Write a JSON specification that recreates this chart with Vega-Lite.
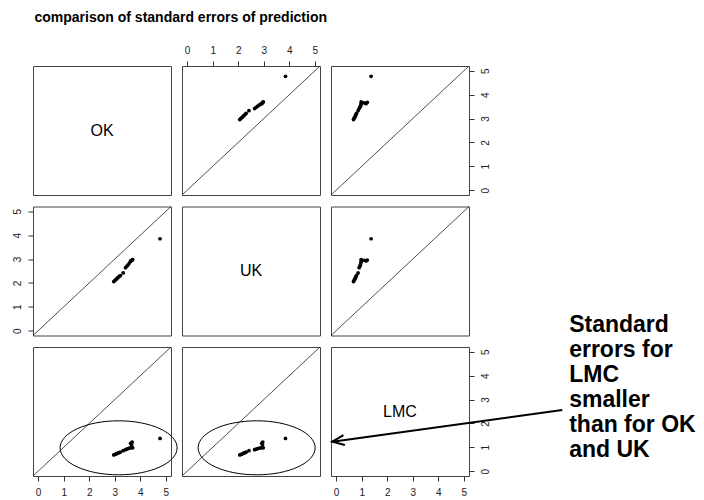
{
  "$schema": "https://vega.github.io/schema/vega-lite/v6.json",
  "padding": {"left": 11, "top": 10, "right": 0, "bottom": 0},
  "title": {"text": "comparison of standard errors of prediction", "anchor": "start", "fontSize": 14, "font": "Liberation Sans", "fontWeight": "bold", "dx": 23, "offset": 20, "color": "#000"},
  "data": {"values": [
    {"OK": 2.96, "UK": 2.06, "LMC": 0.68},
    {"OK": 3.00, "UK": 2.10, "LMC": 0.70},
    {"OK": 3.04, "UK": 2.14, "LMC": 0.72},
    {"OK": 3.08, "UK": 2.18, "LMC": 0.74},
    {"OK": 3.12, "UK": 2.22, "LMC": 0.76},
    {"OK": 3.17, "UK": 2.27, "LMC": 0.78},
    {"OK": 3.22, "UK": 2.31, "LMC": 0.80},
    {"OK": 3.33, "UK": 2.42, "LMC": 0.86},
    {"OK": 3.42, "UK": 2.64, "LMC": 0.90},
    {"OK": 3.47, "UK": 2.70, "LMC": 0.93},
    {"OK": 3.52, "UK": 2.76, "LMC": 0.95},
    {"OK": 3.57, "UK": 2.83, "LMC": 0.97},
    {"OK": 3.62, "UK": 2.90, "LMC": 0.98},
    {"OK": 3.70, "UK": 2.98, "LMC": 0.98},
    {"OK": 3.66, "UK": 2.95, "LMC": 1.10},
    {"OK": 3.62, "UK": 2.92, "LMC": 1.17},
    {"OK": 3.68, "UK": 2.96, "LMC": 1.22},
    {"OK": 4.77, "UK": 3.85, "LMC": 1.37}
  ]},
  "columns": 3,
  "bounds": "flush",
  "spacing": {"row": 11.5, "column": 11},
  "resolve": {"scale": {"x": "independent", "y": "independent"}},
  "concat": [
    {
      "width": 138, "height": 129,
      "data": {"values": [{}]},
      "mark": {"type": "text", "text": "OK", "fontSize": 16, "font": "Liberation Sans", "color": "#000"},
      "encoding": {
        "x": {"datum": 2.5, "type": "quantitative", "scale": {"domain": [-0.2, 5.2], "nice": false, "zero": false}, "axis": null},
        "y": {"datum": 2.5, "type": "quantitative", "scale": {"domain": [-0.2, 5.2], "nice": false, "zero": false}, "axis": null}
      }
    },
    {
      "width": 138, "height": 129,
      "layer": [
        {
          "mark": {"type": "point", "filled": true, "shape": "circle", "size": 14, "color": "#000", "opacity": 1},
          "encoding": {
            "x": {"field": "UK", "type": "quantitative", "scale": {"domain": [-0.2, 5.2], "nice": false, "zero": false}, "axis": {"orient": "top", "values": [0, 1, 2, 3, 4, 5], "tickCount": 6, "title": null, "labelAngle": 0}},
            "y": {"field": "OK", "type": "quantitative", "scale": {"domain": [-0.2, 5.2], "nice": false, "zero": false}, "axis": null}
          }
        },
        {
          "data": {"values": [{}]},
          "mark": {"type": "rule", "color": "#222", "strokeWidth": 0.8},
          "encoding": {
            "x": {"datum": -0.2, "type": "quantitative"},
            "y": {"datum": -0.2, "type": "quantitative"},
            "x2": {"datum": 5.2},
            "y2": {"datum": 5.2}
          }
        }
      ]
    },
    {
      "width": 138, "height": 129,
      "layer": [
        {
          "mark": {"type": "point", "filled": true, "shape": "circle", "size": 14, "color": "#000", "opacity": 1},
          "encoding": {
            "x": {"field": "LMC", "type": "quantitative", "scale": {"domain": [-0.2, 5.2], "nice": false, "zero": false}, "axis": null},
            "y": {"field": "OK", "type": "quantitative", "scale": {"domain": [-0.2, 5.2], "nice": false, "zero": false}, "axis": {"orient": "right", "values": [0, 1, 2, 3, 4, 5], "tickCount": 6, "title": null, "labelAngle": -90}}
          }
        },
        {
          "data": {"values": [{}]},
          "mark": {"type": "rule", "color": "#222", "strokeWidth": 0.8},
          "encoding": {
            "x": {"datum": -0.2, "type": "quantitative"},
            "y": {"datum": -0.2, "type": "quantitative"},
            "x2": {"datum": 5.2},
            "y2": {"datum": 5.2}
          }
        }
      ]
    },
    {
      "width": 138, "height": 129,
      "layer": [
        {
          "mark": {"type": "point", "filled": true, "shape": "circle", "size": 14, "color": "#000", "opacity": 1},
          "encoding": {
            "x": {"field": "OK", "type": "quantitative", "scale": {"domain": [-0.2, 5.2], "nice": false, "zero": false}, "axis": null},
            "y": {"field": "UK", "type": "quantitative", "scale": {"domain": [-0.2, 5.2], "nice": false, "zero": false}, "axis": {"orient": "left", "values": [0, 1, 2, 3, 4, 5], "tickCount": 6, "title": null, "labelAngle": -90}}
          }
        },
        {
          "data": {"values": [{}]},
          "mark": {"type": "rule", "color": "#222", "strokeWidth": 0.8},
          "encoding": {
            "x": {"datum": -0.2, "type": "quantitative"},
            "y": {"datum": -0.2, "type": "quantitative"},
            "x2": {"datum": 5.2},
            "y2": {"datum": 5.2}
          }
        }
      ]
    },
    {
      "width": 138, "height": 129,
      "data": {"values": [{}]},
      "mark": {"type": "text", "text": "UK", "fontSize": 16, "font": "Liberation Sans", "color": "#000"},
      "encoding": {
        "x": {"datum": 2.5, "type": "quantitative", "scale": {"domain": [-0.2, 5.2], "nice": false, "zero": false}, "axis": null},
        "y": {"datum": 2.5, "type": "quantitative", "scale": {"domain": [-0.2, 5.2], "nice": false, "zero": false}, "axis": null}
      }
    },
    {
      "width": 138, "height": 129,
      "layer": [
        {
          "mark": {"type": "point", "filled": true, "shape": "circle", "size": 14, "color": "#000", "opacity": 1},
          "encoding": {
            "x": {"field": "LMC", "type": "quantitative", "scale": {"domain": [-0.2, 5.2], "nice": false, "zero": false}, "axis": null},
            "y": {"field": "UK", "type": "quantitative", "scale": {"domain": [-0.2, 5.2], "nice": false, "zero": false}, "axis": null}
          }
        },
        {
          "data": {"values": [{}]},
          "mark": {"type": "rule", "color": "#222", "strokeWidth": 0.8},
          "encoding": {
            "x": {"datum": -0.2, "type": "quantitative"},
            "y": {"datum": -0.2, "type": "quantitative"},
            "x2": {"datum": 5.2},
            "y2": {"datum": 5.2}
          }
        }
      ]
    },
    {
      "width": 138, "height": 129,
      "layer": [
        {
          "mark": {"type": "point", "filled": true, "shape": "circle", "size": 14, "color": "#000", "opacity": 1},
          "encoding": {
            "x": {"field": "OK", "type": "quantitative", "scale": {"domain": [-0.2, 5.2], "nice": false, "zero": false}, "axis": {"orient": "bottom", "values": [0, 1, 2, 3, 4, 5], "tickCount": 6, "title": null, "labelAngle": 0}},
            "y": {"field": "LMC", "type": "quantitative", "scale": {"domain": [-0.2, 5.2], "nice": false, "zero": false}, "axis": null}
          }
        },
        {
          "data": {"values": [{}]},
          "mark": {"type": "rule", "color": "#222", "strokeWidth": 0.8},
          "encoding": {
            "x": {"datum": -0.2, "type": "quantitative"},
            "y": {"datum": -0.2, "type": "quantitative"},
            "x2": {"datum": 5.2},
            "y2": {"datum": 5.2}
          }
        },
        {
          "data": {"values": [{}]},
          "mark": {"type": "point", "filled": false, "shape": "M-1,0 C-1,-0.2549 -0.5523,-0.4615 0,-0.4615 C0.5523,-0.4615 1,-0.2549 1,0 C1,0.2549 0.5523,0.4615 0,0.4615 C-0.5523,0.4615 -1,0.2549 -1,0 Z", "size": 13689, "color": "#000", "strokeWidth": 1, "opacity": 1},
          "encoding": {
            "x": {"datum": 3.15, "type": "quantitative"},
            "y": {"datum": 0.98, "type": "quantitative"}
          }
        }
      ]
    },
    {
      "width": 138, "height": 129,
      "layer": [
        {
          "mark": {"type": "point", "filled": true, "shape": "circle", "size": 14, "color": "#000", "opacity": 1},
          "encoding": {
            "x": {"field": "UK", "type": "quantitative", "scale": {"domain": [-0.2, 5.2], "nice": false, "zero": false}, "axis": null},
            "y": {"field": "LMC", "type": "quantitative", "scale": {"domain": [-0.2, 5.2], "nice": false, "zero": false}, "axis": null}
          }
        },
        {
          "data": {"values": [{}]},
          "mark": {"type": "rule", "color": "#222", "strokeWidth": 0.8},
          "encoding": {
            "x": {"datum": -0.2, "type": "quantitative"},
            "y": {"datum": -0.2, "type": "quantitative"},
            "x2": {"datum": 5.2},
            "y2": {"datum": 5.2}
          }
        },
        {
          "data": {"values": [{}]},
          "mark": {"type": "point", "filled": false, "shape": "M-1,0 C-1,-0.2549 -0.5523,-0.4615 0,-0.4615 C0.5523,-0.4615 1,-0.2549 1,0 C1,0.2549 0.5523,0.4615 0,0.4615 C-0.5523,0.4615 -1,0.2549 -1,0 Z", "size": 13689, "color": "#000", "strokeWidth": 1, "opacity": 1},
          "encoding": {
            "x": {"datum": 2.72, "type": "quantitative"},
            "y": {"datum": 0.98, "type": "quantitative"}
          }
        }
      ]
    },
    {
      "width": 138, "height": 129,
      "layer": [
        {
          "data": {"values": [{}]},
          "mark": {"type": "text", "text": "LMC", "fontSize": 16, "font": "Liberation Sans", "color": "#000"},
          "encoding": {
            "x": {"datum": 2.5, "type": "quantitative", "scale": {"domain": [-0.2, 5.2], "nice": false, "zero": false}, "axis": {"orient": "bottom", "values": [0, 1, 2, 3, 4, 5], "tickCount": 6, "title": null, "labelAngle": 0}},
            "y": {"datum": 2.5, "type": "quantitative", "scale": {"domain": [-0.2, 5.2], "nice": false, "zero": false}, "axis": {"orient": "right", "values": [0, 1, 2, 3, 4, 5], "tickCount": 6, "title": null, "labelAngle": -90}}
          }
        },
        {
          "data": {"values": [{}]},
          "mark": {"type": "rule", "color": "#000", "strokeWidth": 2},
          "encoding": {
            "x": {"datum": 8.85, "type": "quantitative"},
            "y": {"datum": 2.56, "type": "quantitative"},
            "x2": {"datum": -0.15},
            "y2": {"datum": 1.235}
          }
        },
        {
          "data": {"values": [{}]},
          "mark": {"type": "point", "filled": false, "shape": "M1,-0.42 L0,0 L1,0.42", "size": 576, "angle": -8, "color": "#000", "strokeWidth": 2, "opacity": 1},
          "encoding": {
            "x": {"datum": -0.15, "type": "quantitative"},
            "y": {"datum": 1.235, "type": "quantitative"}
          }
        },
        {
          "data": {"values": [{}]},
          "mark": {"type": "text", "text": "Standard\nerrors for\nLMC\nsmaller\nthan for OK\nand UK", "lineBreak": "\n", "lineHeight": 25, "align": "left", "baseline": "alphabetic", "fontSize": 23, "fontWeight": "bold", "font": "Liberation Sans", "color": "#000"},
          "encoding": {
            "x": {"datum": 9.12, "type": "quantitative"},
            "y": {"datum": 5.84, "type": "quantitative"}
          }
        }
      ]
    }
  ],
  "config": {
    "font": "Liberation Sans",
    "view": {"stroke": "#444", "strokeWidth": 1},
    "axis": {"grid": false, "domain": false, "ticks": true, "tickColor": "#333", "tickSize": 5, "tickWidth": 1, "labelFont": "Liberation Sans", "labelFontSize": 10, "labelColor": "#222", "labelPadding": 6, "labelOverlap": false, "labelFlush": false, "title": null}
  }
}
